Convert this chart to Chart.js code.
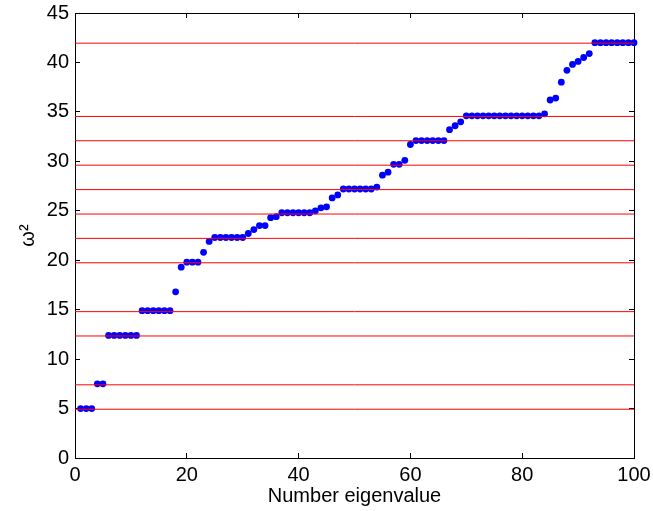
<!DOCTYPE html>
<html>
<head>
<meta charset="utf-8">
<script src="https://cdn.jsdelivr.net/npm/chart.js@4"></script>
<style>
  html, body { margin: 0; padding: 0; background: #fff; }
  #wrap { width: 653px; height: 511px; }
</style>
</head>
<body>
<div id="wrap"><canvas id="chart" width="653" height="511"></canvas></div>
<script>
// eigenvalue index 1..100
const eigenIndex = Array.from({ length: 100 }, (_, i) => i + 1);

// computed omega^2 values
const omegaSq = [
    5.0, 5.0, 5.0, 7.5, 7.5,
    12.4, 12.4, 12.4, 12.4, 12.4, 12.4,
    14.9, 14.9, 14.9, 14.9, 14.9, 14.9,
    16.8, 19.3, 19.8, 19.8, 19.8, 20.8, 21.9,
    22.3, 22.3, 22.3, 22.3, 22.3, 22.3,
    22.7, 23.1, 23.5, 23.5, 24.3, 24.4,
    24.8, 24.8, 24.8, 24.8, 24.8, 24.8,
    25.0, 25.3, 25.4, 26.3, 26.6,
    27.2, 27.2, 27.2, 27.2, 27.2, 27.2,
    27.4, 28.6, 28.9, 29.7, 29.7, 30.1, 31.7,
    32.1, 32.1, 32.1, 32.1, 32.1, 32.1,
    33.2, 33.6, 34.0,
    34.6, 34.6, 34.6, 34.6, 34.6, 34.6, 34.6,
    34.6, 34.6, 34.6, 34.6, 34.6, 34.6, 34.6,
    34.8, 36.2, 36.4, 38.0, 39.2, 39.8, 40.1, 40.5, 40.9,
    42.0, 42.0, 42.0, 42.0, 42.0, 42.0, 42.0, 42.0
];

// exact levels (horizontal reference lines)
const exactLevels = [4.93, 7.40, 12.34, 14.80, 19.74, 22.21, 24.67, 27.14, 29.61, 32.08, 34.54, 41.95];

const xTicks = [0, 20, 40, 60, 80, 100];
const yTicks = [0, 5, 10, 15, 20, 25, 30, 35, 40, 45];

const FONT = "'Liberation Sans', Arial, Helvetica, sans-serif";

// inward tick marks + black box line, shared by all four axes
const boxGrid = { drawOnChartArea: false, drawTicks: true, tickLength: -5, color: '#000', lineWidth: 1 };
const boxBorder = { display: true, color: '#000', width: 1 };

const lineSets = exactLevels.map(v => ({
    type: 'line',
    data: [{ x: 0, y: v }, { x: 100, y: v }],
    borderColor: '#ff0000',
    borderWidth: 1,
    pointRadius: 0,
    order: 0
}));

const pointSet = {
    type: 'scatter',
    data: eigenIndex.map((n, i) => ({ x: n, y: omegaSq[i] })),
    backgroundColor: '#0000ff',
    borderWidth: 0,
    pointRadius: 3.4,
    clip: false,
    order: 1
};

new Chart(document.getElementById('chart'), {
    type: 'scatter',
    data: { datasets: [...lineSets, pointSet] },
    options: {
        responsive: false,
        animation: false,
        layout: { padding: { top: 13, right: 19, left: 16, bottom: 0 } },
        plugins: { legend: { display: false }, tooltip: { enabled: false } },
        scales: {
            x: {
                type: 'linear',
                position: 'bottom',
                min: 0, max: 100,
                afterBuildTicks: s => { s.ticks = xTicks.map(v => ({ value: v })); },
                afterFit: s => { s.height = 53; s.paddingLeft = 0; s.paddingRight = 0; },
                grid: boxGrid,
                border: boxBorder,
                ticks: { color: '#000', font: { family: FONT, size: 20 }, padding: 10, maxRotation: 0 },
                title: { display: true, text: 'Number eigenvalue', color: '#000', font: { family: FONT, size: 20 }, padding: { top: 0, bottom: 3 } }
            },
            x2: {
                type: 'linear',
                position: 'top',
                min: 0, max: 100,
                afterBuildTicks: s => { s.ticks = xTicks.map(v => ({ value: v })); },
                afterFit: s => { s.height = 0; s.paddingLeft = 0; s.paddingRight = 0; },
                grid: boxGrid,
                border: boxBorder,
                ticks: { display: false }
            },
            y: {
                type: 'linear',
                position: 'left',
                min: 0, max: 45,
                afterBuildTicks: s => { s.ticks = yTicks.map(v => ({ value: v })); },
                afterFit: s => { s.width = 59; s.paddingTop = 0; s.paddingBottom = 0; },
                grid: boxGrid,
                border: boxBorder,
                ticks: { color: '#000', font: { family: FONT, size: 20 }, padding: 11 },
                title: { display: true, text: 'ω²', color: '#000', font: { family: FONT, size: 20 }, padding: 0 }
            },
            y2: {
                type: 'linear',
                position: 'right',
                min: 0, max: 45,
                afterBuildTicks: s => { s.ticks = yTicks.map(v => ({ value: v })); },
                afterFit: s => { s.width = 0; s.paddingTop = 0; s.paddingBottom = 0; },
                grid: boxGrid,
                border: boxBorder,
                ticks: { display: false }
            }
        }
    }
});
</script>
</body>
</html>
